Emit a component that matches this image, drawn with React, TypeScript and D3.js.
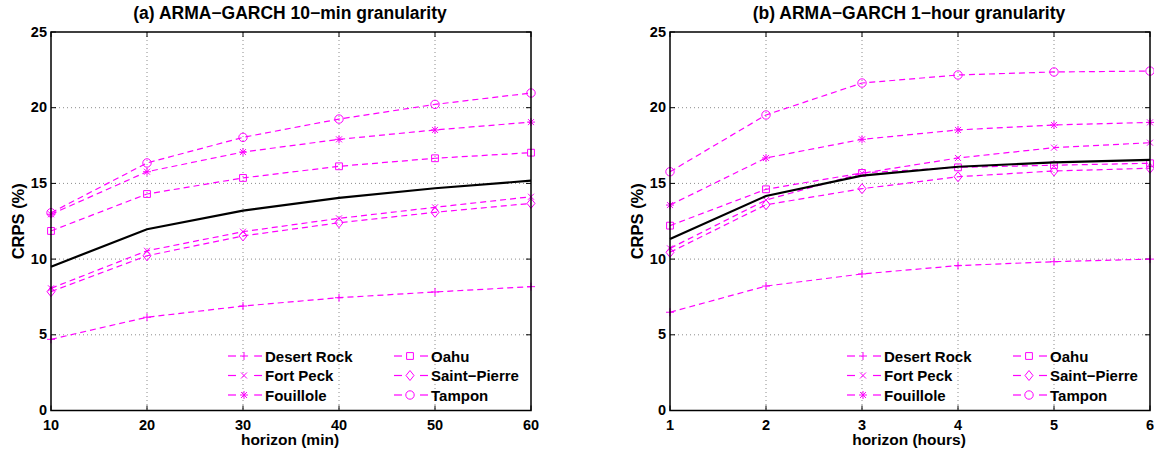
import React from "react";
import * as d3 from "d3";

const minHorizons = [10, 20, 30, 40, 50, 60];
const hourHorizons = [1, 2, 3, 4, 5, 6];
const stationNames = ["Desert Rock", "Fort Peck", "Fouillole", "Oahu", "Saint\u2212Pierre", "Tampon"];
const markerKinds = ["plus", "cross", "star", "square", "diamond", "circle"];
const yTicks = [0, 5, 10, 15, 20, 25];

// 10-min granularity
const desertRock10 = [4.7, 6.16, 6.9, 7.45, 7.83, 8.18];
const fortPeck10 = [8.07, 10.55, 11.81, 12.69, 13.42, 14.12];
const fouillole10 = [12.96, 15.77, 17.07, 17.91, 18.53, 19.05];
const oahu10 = [11.86, 14.3, 15.36, 16.13, 16.66, 17.03];
const saintPierre10 = [7.85, 10.22, 11.53, 12.4, 13.09, 13.68];
const tampon10 = [13.06, 16.35, 18.04, 19.25, 20.22, 20.97];
const mean10 = [9.5, 11.97, 13.2, 14.04, 14.68, 15.18];

// 1-hour granularity
const desertRock1h = [6.49, 8.22, 9.02, 9.57, 9.83, 10.0];
const fortPeck1h = [10.71, 13.9, 15.67, 16.68, 17.36, 17.69];
const fouillole1h = [13.57, 16.68, 17.91, 18.53, 18.86, 19.03];
const oahu1h = [12.21, 14.61, 15.69, 16.06, 16.2, 16.33];
const saintPierre1h = [10.45, 13.59, 14.65, 15.44, 15.82, 16.0];
const tampon1h = [15.77, 19.52, 21.63, 22.16, 22.36, 22.42];
const mean1h = [11.33, 14.17, 15.51, 16.1, 16.39, 16.55];

const MAGENTA = "#ff00ff";
const FONT = "'Liberation Sans', Arial, Helvetica, sans-serif";

function markerPath(kind: string, s = 4) {
  const c = s * 0.75;
  switch (kind) {
    case "plus":
      return `M${-s},0H${s}M0,${-s}V${s}`;
    case "cross":
      return `M${-c},${-c}L${c},${c}M${-c},${c}L${c},${-c}`;
    case "star":
      return `M${-s},0H${s}M0,${-s}V${s}M${-c},${-c}L${c},${c}M${-c},${c}L${c},${-c}`;
    case "square": {
      const q = s * 0.85;
      return `M${-q},${-q}H${q}V${q}H${-q}Z`;
    }
    case "diamond":
      return `M0,${-s * 1.25}L${s},0L0,${s * 1.25}L${-s},0Z`;
    default:
      return "";
  }
}

function Marker({ kind, x, y }: { kind: string; x: number; y: number }) {
  if (kind === "circle")
    return <circle cx={x} cy={y} r={4.2} fill="none" stroke={MAGENTA} strokeWidth={1} />;
  return (
    <path d={markerPath(kind)} transform={`translate(${x},${y})`} fill="none" stroke={MAGENTA} strokeWidth={1} />
  );
}

type PanelProps = {
  left: number;
  title: string;
  xLabel: string;
  xs: number[];
  series: number[][];
  mean: number[];
};

function Panel({ left, title, xLabel, xs, series, mean }: PanelProps) {
  const top = 32;
  const bottom = 410.5;
  const width = 480;
  const x = d3.scaleLinear().domain([xs[0], xs[xs.length - 1]]).range([left, left + width]);
  const y = d3.scaleLinear().domain([0, 25]).range([bottom, top]);
  const line = d3
    .line<number>()
    .x((_, i) => x(xs[i]))
    .y((d) => y(d));
  const tickLen = 5;

  const legendRows = [356, 375.5, 395];
  const legendCols = [left + 177, left + 343];

  return (
    <g fontFamily={FONT} fontWeight="bold">
      <text x={left + width / 2 - 1} y={19} textAnchor="middle" fontSize={17.5}>
        {title}
      </text>

      {/* grid */}
      {yTicks.slice(1, -1).map((t) => (
        <line key={"gy" + t} x1={left} x2={left + width} y1={y(t)} y2={y(t)} stroke="#8c8c8c" strokeDasharray="1,3" />
      ))}
      {xs.slice(1, -1).map((t) => (
        <line key={"gx" + t} x1={x(t)} x2={x(t)} y1={top} y2={bottom} stroke="#8c8c8c" strokeDasharray="1,3" />
      ))}

      {/* ticks */}
      {yTicks.map((t) => (
        <g key={"ty" + t}>
          <line x1={left} x2={left + tickLen} y1={y(t)} y2={y(t)} stroke="#000" />
          <line x1={left + width} x2={left + width - tickLen} y1={y(t)} y2={y(t)} stroke="#000" />
          <text x={left - 4} y={y(t) + 4.5} textAnchor="end" fontSize={14.5}>
            {t}
          </text>
        </g>
      ))}
      {xs.map((t) => (
        <g key={"tx" + t}>
          <line x1={x(t)} x2={x(t)} y1={bottom} y2={bottom - tickLen} stroke="#000" />
          <line x1={x(t)} x2={x(t)} y1={top} y2={top + tickLen} stroke="#000" />
          <text x={x(t)} y={430} textAnchor="middle" fontSize={14.5}>
            {t}
          </text>
        </g>
      ))}

      <text x={left + width / 2 - 1} y={445} textAnchor="middle" fontSize={15.5}>
        {xLabel}
      </text>
      <text
        transform={`translate(${left - 27},${(top + bottom) / 2}) rotate(-90)`}
        textAnchor="middle"
        fontSize={16.5}
      >
        CRPS (%)
      </text>

      {/* series */}
      {series.map((vals, si) => (
        <g key={"s" + si}>
          <path d={line(vals) || ""} fill="none" stroke={MAGENTA} strokeWidth={1.2} strokeDasharray="6,4" />
          {vals.map((v, i) => (
            <Marker key={i} kind={markerKinds[si]} x={x(xs[i])} y={y(v)} />
          ))}
        </g>
      ))}
      <path d={line(mean) || ""} fill="none" stroke="#000" strokeWidth={2.2} />

      {/* legend */}
      {stationNames.map((name, i) => {
        const cx = legendCols[Math.floor(i / 3)];
        const cy = legendRows[i % 3];
        return (
          <g key={"l" + i}>
            <line x1={cx} x2={cx + 8} y1={cy} y2={cy} stroke={MAGENTA} strokeWidth={1.2} />
            <line x1={cx + 26} x2={cx + 34} y1={cy} y2={cy} stroke={MAGENTA} strokeWidth={1.2} />
            <Marker kind={markerKinds[i]} x={cx + 16} y={cy} />
            <text x={cx + 37} y={cy + 5.5} fontSize={15}>
              {name}
            </text>
          </g>
        );
      })}

      <rect x={left} y={top} width={width} height={bottom - top} fill="none" stroke="#000" strokeWidth={1.5} />
    </g>
  );
}

export default function App() {
  return (
    <svg
      width={1154}
      height={451}
      style={{ position: "absolute", left: 0, top: 0, background: "#fff" }}
    >
      <rect width={1154} height={451} fill="#fff" />
      <Panel
        left={51}
        title={"(a) ARMA\u2212GARCH 10\u2212min granularity"}
        xLabel="horizon (min)"
        xs={minHorizons}
        series={[desertRock10, fortPeck10, fouillole10, oahu10, saintPierre10, tampon10]}
        mean={mean10}
      />
      <Panel
        left={670}
        title={"(b) ARMA\u2212GARCH 1\u2212hour granularity"}
        xLabel="horizon (hours)"
        xs={hourHorizons}
        series={[desertRock1h, fortPeck1h, fouillole1h, oahu1h, saintPierre1h, tampon1h]}
        mean={mean1h}
      />
    </svg>
  );
}
